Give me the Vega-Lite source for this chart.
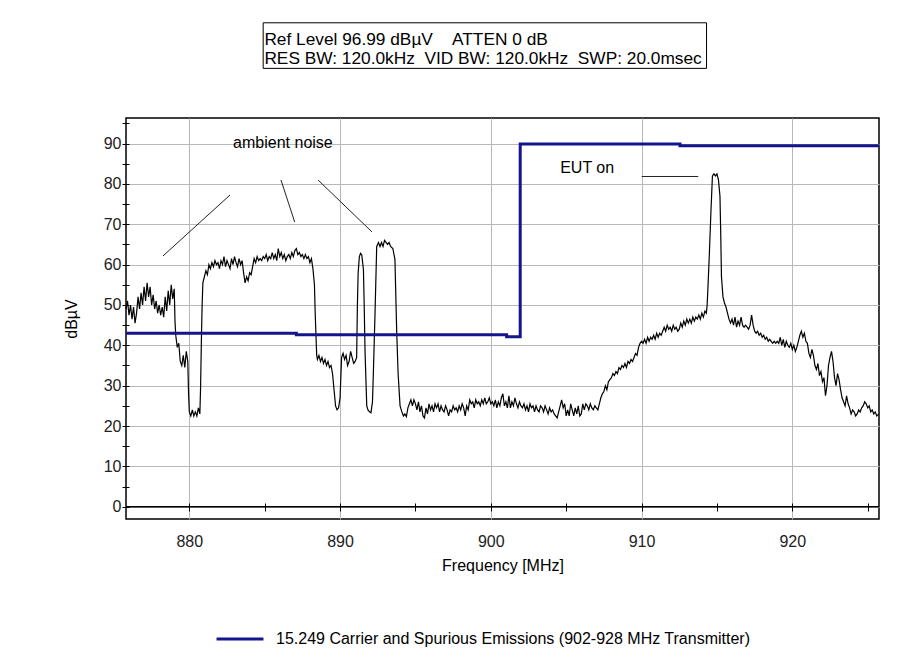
{
  "$schema": "https://vega.github.io/schema/vega-lite/v6.json",
  "width": 753,
  "height": 401,
  "autosize": {"type": "none"},
  "padding": {"left": 126, "top": 118, "right": 43, "bottom": 141},
  "background": "white",
  "config": {
    "font": "Liberation Sans",
    "view": {"stroke": "black", "strokeWidth": 1.5},
    "axis": {"labelFont": "Liberation Sans", "titleFont": "Liberation Sans"}
  },
  "datasets": {
    "trace": [
      {"f":875.8,"dB":49},{"f":875.9,"dB":51},{"f":876.0,"dB":47.5},{"f":876.1,"dB":50},{"f":876.2,"dB":46.5},{"f":876.3,"dB":49.5},{"f":876.4,"dB":45.5},{"f":876.5,"dB":48},{"f":876.6,"dB":52},{"f":876.7,"dB":49},{"f":876.8,"dB":53},{"f":876.9,"dB":50},{"f":877.0,"dB":54.5},{"f":877.1,"dB":51},{"f":877.2,"dB":55.5},{"f":877.3,"dB":52},{"f":877.4,"dB":54.5},{"f":877.5,"dB":50},{"f":877.6,"dB":52.5},{"f":877.7,"dB":49},{"f":877.8,"dB":51},{"f":877.9,"dB":48},{"f":878.0,"dB":50},{"f":878.1,"dB":47.5},{"f":878.2,"dB":49.5},{"f":878.3,"dB":47},{"f":878.4,"dB":52},{"f":878.5,"dB":48.5},{"f":878.6,"dB":53.5},{"f":878.7,"dB":50},{"f":878.8,"dB":55},{"f":878.9,"dB":51.5},{"f":879.0,"dB":54},{"f":879.05,"dB":46},{"f":879.1,"dB":42.5},{"f":879.2,"dB":39.5},{"f":879.3,"dB":40.5},{"f":879.4,"dB":36},{"f":879.5,"dB":35},{"f":879.6,"dB":37.5},{"f":879.7,"dB":34.5},{"f":879.8,"dB":38.5},{"f":879.9,"dB":36},{"f":879.95,"dB":28},{"f":880.0,"dB":23.5},{"f":880.1,"dB":22.5},{"f":880.2,"dB":24},{"f":880.3,"dB":22.5},{"f":880.4,"dB":23.5},{"f":880.5,"dB":22.5},{"f":880.6,"dB":24.5},{"f":880.7,"dB":23},{"f":880.75,"dB":30},{"f":880.8,"dB":41},{"f":880.85,"dB":50},{"f":880.9,"dB":55.5},{"f":881.0,"dB":57},{"f":881.1,"dB":58.5},{"f":881.2,"dB":57.5},
      {"f":881.3,"dB":60},{"f":881.4,"dB":59},{"f":881.5,"dB":60.5},{"f":881.6,"dB":59.5},{"f":881.7,"dB":61},{"f":881.8,"dB":60},{"f":881.9,"dB":60.5},{"f":882.0,"dB":59},{"f":882.1,"dB":61},{"f":882.2,"dB":60},{"f":882.3,"dB":62},{"f":882.4,"dB":59.5},{"f":882.5,"dB":61},{"f":882.6,"dB":60},{"f":882.7,"dB":59},{"f":882.8,"dB":61.5},{"f":882.9,"dB":60},{"f":883.0,"dB":62},{"f":883.1,"dB":60.5},{"f":883.2,"dB":59.5},{"f":883.3,"dB":61.5},{"f":883.4,"dB":60},{"f":883.5,"dB":61},{"f":883.6,"dB":58},{"f":883.7,"dB":55.5},{"f":883.8,"dB":57},{"f":883.9,"dB":56},{"f":884.0,"dB":58},{"f":884.1,"dB":57.5},{"f":884.2,"dB":59.5},{"f":884.3,"dB":61.5},{"f":884.4,"dB":60.5},{"f":884.5,"dB":62},{"f":884.6,"dB":61},{"f":884.7,"dB":61.5},{"f":884.8,"dB":61},{"f":884.9,"dB":62},{"f":885.0,"dB":61.5},{"f":885.1,"dB":62.5},{"f":885.2,"dB":61},{"f":885.3,"dB":62},{"f":885.4,"dB":61.5},{"f":885.5,"dB":63},{"f":885.6,"dB":61.5},{"f":885.7,"dB":62.5},{"f":885.8,"dB":61},{"f":885.9,"dB":64},{"f":886.0,"dB":62},{"f":886.1,"dB":63},{"f":886.2,"dB":61.5},{"f":886.3,"dB":62.5},{"f":886.4,"dB":61},{"f":886.5,"dB":62},{"f":886.6,"dB":62.5},{"f":886.7,"dB":61.5},{"f":886.8,"dB":63},{"f":886.9,"dB":62},{"f":887.0,"dB":63.5},{"f":887.1,"dB":64},{"f":887.2,"dB":62.5},{"f":887.3,"dB":63},{"f":887.4,"dB":62},{"f":887.5,"dB":62.5},{"f":887.6,"dB":61.5},{"f":887.7,"dB":62.5},{"f":887.8,"dB":61.5},{"f":887.9,"dB":62},{"f":888.0,"dB":60.5},{"f":888.1,"dB":61.5},{"f":888.2,"dB":59},{"f":888.3,"dB":55},{"f":888.35,"dB":48},{"f":888.45,"dB":37.5},{"f":888.5,"dB":36.5},{"f":888.6,"dB":37.5},{"f":888.7,"dB":36},{"f":888.8,"dB":37},{"f":888.9,"dB":35.5},{"f":889.0,"dB":36.5},{"f":889.1,"dB":35},{"f":889.2,"dB":36},{"f":889.3,"dB":34.5},{"f":889.4,"dB":35},{"f":889.5,"dB":33},{"f":889.6,"dB":29},{"f":889.7,"dB":25},{"f":889.8,"dB":24},{"f":889.9,"dB":24.5},{"f":890.0,"dB":27},{"f":890.1,"dB":37},{"f":890.2,"dB":38},{"f":890.3,"dB":36.5},{"f":890.4,"dB":37.5},{"f":890.5,"dB":35},{"f":890.6,"dB":36},{"f":890.7,"dB":38.5},{"f":890.8,"dB":37},{"f":890.9,"dB":35.5},{"f":891.0,"dB":36},{"f":891.1,"dB":37},{"f":891.15,"dB":50},{"f":891.2,"dB":58},{"f":891.28,"dB":62},{"f":891.36,"dB":62.8},{"f":891.44,"dB":62.4},{"f":891.55,"dB":58.8},{"f":891.6,"dB":50},{"f":891.66,"dB":38},{"f":891.77,"dB":25},{"f":891.85,"dB":24},{"f":891.95,"dB":23.5},{"f":892.05,"dB":23.3},{"f":892.15,"dB":26},{"f":892.2,"dB":32},{"f":892.32,"dB":48},{"f":892.43,"dB":64.5},{"f":892.55,"dB":65.5},{"f":892.65,"dB":64.5},{"f":892.75,"dB":65.5},{"f":892.85,"dB":64.5},{"f":892.95,"dB":66},{"f":893.05,"dB":65.5},{"f":893.15,"dB":65},{"f":893.25,"dB":65.5},{"f":893.35,"dB":64.5},{"f":893.5,"dB":64},{"f":893.64,"dB":61.3},{"f":893.7,"dB":52},{"f":893.76,"dB":43},{"f":893.85,"dB":33},{"f":893.98,"dB":25},{"f":894.1,"dB":23.5},{"f":894.2,"dB":22.5},{"f":894.3,"dB":23},{"f":894.4,"dB":22.3},{"f":894.5,"dB":24.5},{"f":894.6,"dB":25.5},{"f":894.7,"dB":26.5},{"f":894.8,"dB":25},{"f":894.9,"dB":26.5},
      {"f":895.0,"dB":25.5},{"f":895.1,"dB":24},{"f":895.2,"dB":26},{"f":895.3,"dB":23.5},{"f":895.4,"dB":25},{"f":895.5,"dB":22.5},{"f":895.6,"dB":22},{"f":895.7,"dB":24.5},{"f":895.8,"dB":23},{"f":895.9,"dB":25.5},{"f":896.0,"dB":24},{"f":896.1,"dB":25},{"f":896.2,"dB":23.5},{"f":896.3,"dB":25.5},{"f":896.4,"dB":24.5},{"f":896.5,"dB":25.5},{"f":896.6,"dB":23.5},{"f":896.7,"dB":25},{"f":896.8,"dB":24},{"f":896.9,"dB":23.5},{"f":897.0,"dB":25},{"f":897.1,"dB":24},{"f":897.2,"dB":22.5},{"f":897.3,"dB":24},{"f":897.4,"dB":23.5},{"f":897.5,"dB":25},{"f":897.6,"dB":24},{"f":897.7,"dB":24.5},{"f":897.8,"dB":23.5},{"f":897.9,"dB":25},{"f":898.0,"dB":24},{"f":898.1,"dB":25.5},{"f":898.2,"dB":24.5},{"f":898.3,"dB":22.5},{"f":898.4,"dB":25},{"f":898.5,"dB":24},{"f":898.6,"dB":26.5},{"f":898.7,"dB":25.5},{"f":898.8,"dB":26},{"f":898.9,"dB":24.5},{"f":899.0,"dB":26.5},{"f":899.1,"dB":25.5},{"f":899.2,"dB":26},{"f":899.3,"dB":25},{"f":899.4,"dB":26.5},{"f":899.5,"dB":25.5},{"f":899.6,"dB":27},{"f":899.7,"dB":25.5},{"f":899.8,"dB":26},{"f":899.9,"dB":27},{"f":900.0,"dB":25.5},{"f":900.1,"dB":26},{"f":900.2,"dB":25},{"f":900.3,"dB":26.5},{"f":900.4,"dB":24.5},{"f":900.5,"dB":26},{"f":900.6,"dB":25},{"f":900.7,"dB":27},{"f":900.8,"dB":28},{"f":900.9,"dB":25},{"f":901.0,"dB":26},{"f":901.1,"dB":24.5},{"f":901.2,"dB":27.5},{"f":901.3,"dB":24.5},{"f":901.4,"dB":26},{"f":901.5,"dB":25},{"f":901.6,"dB":27},{"f":901.7,"dB":25.5},{"f":901.8,"dB":24.5},{"f":901.9,"dB":26},{"f":902.0,"dB":25},{"f":902.1,"dB":24.5},{"f":902.2,"dB":25.5},{"f":902.3,"dB":24},{"f":902.4,"dB":25},{"f":902.5,"dB":23.5},{"f":902.6,"dB":25.5},{"f":902.7,"dB":24.5},{"f":902.8,"dB":25},{"f":902.9,"dB":23.5},{"f":903.0,"dB":25},{"f":903.1,"dB":24},{"f":903.2,"dB":23.5},{"f":903.3,"dB":25},{"f":903.4,"dB":24.5},{"f":903.5,"dB":23.5},{"f":903.6,"dB":25},{"f":903.7,"dB":24},{"f":903.8,"dB":23},{"f":903.9,"dB":24.5},{"f":904.0,"dB":23.5},{"f":904.1,"dB":24},{"f":904.2,"dB":23},{"f":904.3,"dB":22.5},{"f":904.4,"dB":22},{"f":904.5,"dB":23.5},{"f":904.6,"dB":25},{"f":904.7,"dB":26.5},{"f":904.8,"dB":24.5},{"f":904.9,"dB":25.5},{"f":905.0,"dB":22.5},{"f":905.1,"dB":24},{"f":905.2,"dB":22.5},{"f":905.3,"dB":25.5},{"f":905.4,"dB":24},{"f":905.5,"dB":22.5},{"f":905.6,"dB":24.5},{"f":905.7,"dB":23},{"f":905.8,"dB":25},{"f":905.9,"dB":22.5},{"f":906.0,"dB":23},{"f":906.1,"dB":25.5},{"f":906.2,"dB":24},{"f":906.3,"dB":25.5},{"f":906.4,"dB":25},{"f":906.5,"dB":24},{"f":906.6,"dB":25.5},{"f":906.7,"dB":24.5},{"f":906.8,"dB":24},{"f":906.9,"dB":25},{"f":907.0,"dB":24.5},{"f":907.1,"dB":24},{"f":907.2,"dB":25.5},{"f":907.3,"dB":27},{"f":907.4,"dB":28},{"f":907.5,"dB":28.5},{"f":907.6,"dB":30},{"f":907.7,"dB":29},{"f":907.8,"dB":31},{"f":907.9,"dB":31.5},{"f":908.0,"dB":32},{"f":908.1,"dB":33},{"f":908.2,"dB":32.5},{"f":908.3,"dB":33.5},{"f":908.4,"dB":33},{"f":908.5,"dB":34.5},{"f":908.6,"dB":34},{"f":908.7,"dB":35},{"f":908.8,"dB":34.5},{"f":908.9,"dB":35.5},{"f":909.0,"dB":34.5},{"f":909.1,"dB":36},{"f":909.2,"dB":35.5},{"f":909.3,"dB":36.5},{"f":909.4,"dB":36},{"f":909.5,"dB":37},{"f":909.6,"dB":38},{"f":909.7,"dB":37.5},{"f":909.8,"dB":39.5},{"f":909.9,"dB":40.5},{"f":910.0,"dB":41},{"f":910.1,"dB":40.5},{"f":910.2,"dB":41.5},{"f":910.3,"dB":40.5},{"f":910.4,"dB":42},{"f":910.5,"dB":41},{"f":910.6,"dB":42},{"f":910.7,"dB":41.5},{"f":910.8,"dB":42.5},{"f":910.9,"dB":41.5},{"f":911.0,"dB":43},{"f":911.1,"dB":42},{"f":911.2,"dB":43},{"f":911.3,"dB":42.5},{"f":911.4,"dB":43.5},{"f":911.5,"dB":44.5},{"f":911.6,"dB":43.5},{"f":911.7,"dB":45},{"f":911.8,"dB":44},{"f":911.9,"dB":44.5},{"f":912.0,"dB":43.5},{"f":912.1,"dB":45},{"f":912.2,"dB":44},{"f":912.3,"dB":44.5},{"f":912.4,"dB":43.5},{"f":912.5,"dB":44},{"f":912.6,"dB":45.5},{"f":912.7,"dB":44.5},{"f":912.8,"dB":46},{"f":912.9,"dB":45},{"f":913.0,"dB":46.5},{"f":913.1,"dB":45.5},{"f":913.2,"dB":46.5},{"f":913.3,"dB":45.5},{"f":913.4,"dB":47},{"f":913.5,"dB":46},{"f":913.6,"dB":47},{"f":913.7,"dB":46.5},{"f":913.8,"dB":47.5},{"f":913.9,"dB":46.5},{"f":914.0,"dB":48},{"f":914.1,"dB":47},{"f":914.2,"dB":48.5},{"f":914.3,"dB":48},{"f":914.35,"dB":50},{"f":914.4,"dB":54},{"f":914.5,"dB":63},{"f":914.6,"dB":73},{"f":914.7,"dB":82},{"f":914.8,"dB":82.5},{"f":914.9,"dB":82},{"f":915.0,"dB":82.5},{"f":915.1,"dB":81},{"f":915.2,"dB":77},{"f":915.25,"dB":68},{"f":915.3,"dB":57},{"f":915.4,"dB":52},{"f":915.5,"dB":50.5},{"f":915.6,"dB":49.5},{"f":915.7,"dB":48},{"f":915.8,"dB":46.5},{"f":915.9,"dB":45.5},{"f":916.0,"dB":46.5},{"f":916.1,"dB":45},{"f":916.2,"dB":47},{"f":916.3,"dB":44.5},{"f":916.4,"dB":46},{"f":916.5,"dB":45},{"f":916.6,"dB":47},{"f":916.7,"dB":45},{"f":916.8,"dB":44.5},{"f":916.9,"dB":45},{"f":917.0,"dB":44.5},{"f":917.1,"dB":44},{"f":917.2,"dB":45},{"f":917.3,"dB":47.5},{"f":917.4,"dB":45},{"f":917.5,"dB":43.5},{"f":917.6,"dB":43},{"f":917.7,"dB":43.5},{"f":917.8,"dB":42.5},{"f":917.9,"dB":43},{"f":918.0,"dB":42},{"f":918.1,"dB":42.5},{"f":918.2,"dB":41.5},{"f":918.3,"dB":42},{"f":918.4,"dB":41},{"f":918.5,"dB":41.5},{"f":918.6,"dB":41},{"f":918.7,"dB":40.5},{"f":918.8,"dB":41},{"f":918.9,"dB":40.5},{"f":919.0,"dB":41},{"f":919.1,"dB":40.5},{"f":919.2,"dB":42},{"f":919.3,"dB":40},{"f":919.4,"dB":41.5},{"f":919.5,"dB":39.5},{"f":919.6,"dB":41},{"f":919.7,"dB":40},{"f":919.8,"dB":39.5},{"f":919.9,"dB":40.5},{"f":920.0,"dB":39},{"f":920.1,"dB":40},{"f":920.2,"dB":38.5},{"f":920.3,"dB":39.5},{"f":920.4,"dB":41},{"f":920.5,"dB":42.5},{"f":920.6,"dB":43.5},{"f":920.7,"dB":42},{"f":920.8,"dB":43},{"f":920.9,"dB":41},{"f":921.0,"dB":40.5},{"f":921.1,"dB":38},{"f":921.2,"dB":37},{"f":921.3,"dB":39},{"f":921.4,"dB":37.5},{"f":921.5,"dB":35},{"f":921.6,"dB":34},{"f":921.7,"dB":35.5},{"f":921.8,"dB":32.5},{"f":921.9,"dB":33.5},{"f":922.0,"dB":31},{"f":922.1,"dB":32},{"f":922.2,"dB":27.5},{"f":922.3,"dB":30},{"f":922.4,"dB":35},{"f":922.5,"dB":37},{"f":922.6,"dB":38.5},{"f":922.7,"dB":36},{"f":922.8,"dB":32},{"f":922.9,"dB":30},{"f":923.0,"dB":33},{"f":923.1,"dB":31.5},{"f":923.2,"dB":29},{"f":923.3,"dB":27},{"f":923.4,"dB":26},{"f":923.5,"dB":25},{"f":923.6,"dB":27.5},{"f":923.7,"dB":25.5},{"f":923.8,"dB":24.5},{"f":923.9,"dB":23},{"f":924.0,"dB":24},{"f":924.1,"dB":23.5},{"f":924.2,"dB":22.5},{"f":924.3,"dB":23},{"f":924.4,"dB":24},{"f":924.5,"dB":23.5},{"f":924.6,"dB":24.5},{"f":924.7,"dB":25},{"f":924.8,"dB":26},{"f":924.9,"dB":25.5},{"f":925.0,"dB":24.5},{"f":925.1,"dB":25},{"f":925.2,"dB":23.5},{"f":925.3,"dB":24},{"f":925.4,"dB":23},{"f":925.5,"dB":23.5},{"f":925.6,"dB":22.5},{"f":925.75,"dB":23}
    ],
    "limit": [
      {"f":875.8,"dB":43.0},{"f":887.1,"dB":42.6},{"f":901.05,"dB":42.1},{"f":901.95,"dB":89.9},{"f":912.55,"dB":89.5},{"f":925.75,"dB":89.5}
    ],
    "zeroline": [
      {"f":875.8,"f2":925.75,"dB":0}
    ],
    "pointers": [
      {"f":878.25,"dB":62.14,"f2":882.7,"dB2":77.26},
      {"f":886.08,"dB":80.98,"f2":886.99,"dB2":70.57},
      {"f":888.54,"dB":80.98,"f2":892.12,"dB2":68.09},
      {"f":910.01,"dB":81.85,"f2":913.76,"dB2":81.85}
    ],
    "notes": [
      {"f":886.21,"dB":88.9,"label":"ambient noise"},
      {"f":906.39,"dB":82.72,"label":"EUT on"}
    ],
    "headerbox": [
      {"f":884.9,"dB":119.95,"f2":914.31,"dB2":108.65}
    ],
    "header": [
      {"f":884.98,"dB":114.4,"label":"Ref Level 96.99 dBµV\u00a0\u00a0\u00a0\u00a0ATTEN 0 dB"},
      {"f":884.98,"dB":109.85,"label":"RES BW: 120.0kHz\u00a0\u00a0VID BW: 120.0kHz\u00a0\u00a0SWP: 20.0msec"}
    ]
  },
  "encoding": {
    "x": {
      "field": "f", "type": "quantitative", "title": "Frequency [MHz]",
      "scale": {"domain": [875.8, 925.75], "nice": false, "zero": false},
      "axis": {
        "values": [880,885,890,895,900,905,910,915,920,925],
        "labelExpr": "datum.value % 10 === 0 ? datum.label : ''",
        "domain": false, "offset": -16, "tickSize": 8, "tickColor": "black", "tickWidth": 1,
        "labelPadding": 22, "labelFontSize": 16, "labelColor": "#222222", "labelOverlap": false, "labelFlush": false,
        "grid": true, "gridColor": "#b8b8b8", "gridWidth": 1,
        "gridOpacity": {"condition": {"test": "datum.value % 10 === 0", "value": 1}, "value": 0},
        "titleFontSize": 16, "titleFontWeight": "normal", "titleColor": "black", "titlePadding": 8
      }
    },
    "y": {
      "field": "dB", "type": "quantitative", "title": "dBµV",
      "scale": {"domain": [-3.05, 96.35], "nice": false, "zero": false},
      "axis": {
        "values": [0,5,10,15,20,25,30,35,40,45,50,55,60,65,70,75,80,85,90,95],
        "labelExpr": "datum.value % 10 === 0 ? datum.label : ''",
        "domain": false, "offset": -3, "tickSize": 7, "tickColor": "black", "tickWidth": 1,
        "labelPadding": 1, "labelFontSize": 16, "labelColor": "#222222", "labelOverlap": false, "labelFlush": false,
        "grid": true, "gridColor": "#b8b8b8", "gridWidth": 1,
        "gridOpacity": {"condition": {"test": "datum.value % 10 === 0", "value": 1}, "value": 0},
        "titleFontSize": 16, "titleFontWeight": "normal", "titleColor": "black", "titlePadding": 24
      }
    }
  },
  "layer": [
    {
      "data": {"name": "zeroline"},
      "mark": {"type": "rule", "color": "black", "strokeWidth": 1.5},
      "encoding": {"x2": {"field": "f2"}}
    },
    {
      "data": {"name": "trace"},
      "mark": {"type": "line", "color": "black", "strokeWidth": 1.2}
    },
    {
      "data": {"name": "limit"},
      "mark": {"type": "line", "interpolate": "step-after", "strokeWidth": 3},
      "encoding": {
        "color": {
          "datum": "15.249 Carrier and Spurious Emissions (902-928 MHz Transmitter)",
          "scale": {"range": ["#14148c"]},
          "legend": {
            "orient": "none", "legendX": 89, "legendY": 496, "title": null, "padding": 0,
            "symbolType": "stroke", "symbolSize": 2200, "symbolStrokeWidth": 3,
            "labelFontSize": 16, "labelOffset": 11, "labelColor": "black", "labelFont": "Liberation Sans", "labelLimit": 700
          }
        }
      }
    },
    {
      "data": {"name": "pointers"},
      "mark": {"type": "rule", "color": "#222222", "strokeWidth": 1},
      "encoding": {"x2": {"field": "f2"}, "y2": {"field": "dB2"}}
    },
    {
      "data": {"name": "notes"},
      "mark": {"type": "text", "align": "center", "baseline": "alphabetic", "fontSize": 16, "color": "black"},
      "encoding": {"text": {"field": "label"}}
    },
    {
      "data": {"name": "headerbox"},
      "mark": {"type": "rect", "fill": "white", "stroke": "black", "strokeWidth": 1},
      "encoding": {"x2": {"field": "f2"}, "y2": {"field": "dB2"}}
    },
    {
      "data": {"name": "header"},
      "mark": {"type": "text", "align": "left", "baseline": "alphabetic", "fontSize": 17.3, "color": "black"},
      "encoding": {"text": {"field": "label"}}
    }
  ]
}
